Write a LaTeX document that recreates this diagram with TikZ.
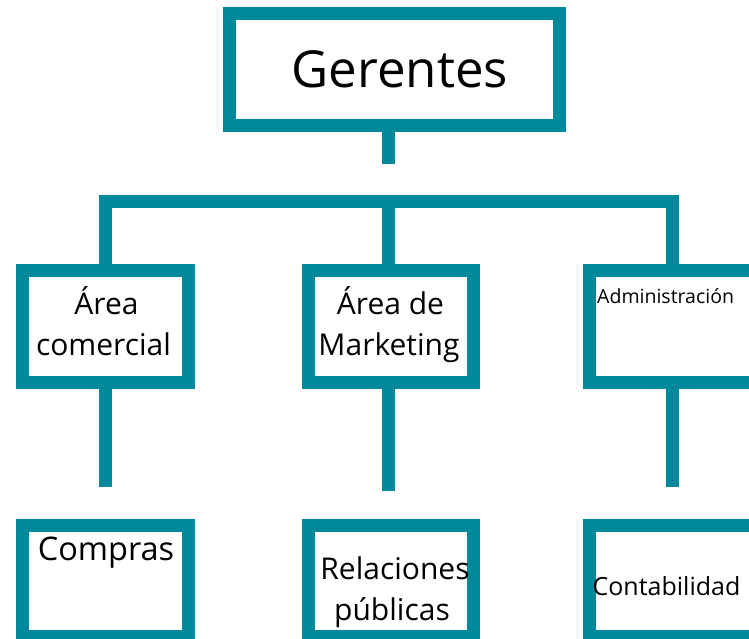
\documentclass[tikz,border=0pt]{standalone}
\usepackage{fontspec}
\setmainfont{Open Sans}
\definecolor{teal1}{HTML}{00899A}
\tikzset{
  orgbox/.style={draw=teal1, line width=13pt, fill=white, rectangle, inner sep=0pt, outer sep=0pt, line join=miter},
  conn/.style={draw=teal1, line width=13pt, line join=miter, line cap=butt},
  lbl/.style={anchor=base, inner sep=0pt, text=black},
}
\begin{document}
\begin{tikzpicture}[x=1pt,y=-1pt]
\useasboundingbox (0,0) rectangle (749,639);
\fill[white] (0,0) rectangle (749,639);
\begin{scope}
\clip (0,0) rectangle (749,639);
% connectors
\coordinate (barL) at (105,201.5);
\coordinate (barR) at (672,201.5);
\coordinate (barM) at (388.5,201.5);
\coordinate (topEnd) at (388.5,164);
\coordinate (d1) at (105,487);
\coordinate (d2) at (388.5,491);
\coordinate (d3) at (672,487);
% boxes
\node[orgbox, minimum width=330pt, minimum height=112pt] (ger) at (394.5,69.5) {};
\node[orgbox, minimum width=165.5pt, minimum height=112pt] (ac) at (105.25,326) {};
\node[orgbox, minimum width=164.5pt, minimum height=112pt] (am) at (390.75,326) {};
\node[orgbox, minimum width=165.5pt, minimum height=112pt] (adm) at (672.25,326) {};
\node[orgbox, minimum width=165.5pt, minimum height=111pt] (com) at (105.25,581) {};
\node[orgbox, minimum width=164.5pt, minimum height=111pt] (rp) at (390.75,581) {};
\node[orgbox, minimum width=165.5pt, minimum height=111pt] (cont) at (672.25,581) {};
% lines
\draw[conn] (ger.south -| topEnd) ++(0,-6.5) -- (topEnd);
\draw[conn] (ac.north -| barL) ++(0,6.5) -- (barL) -- (barR) -- ([yshift=6.5pt]adm.north -| barR);
\draw[conn] (barM) -- ([yshift=6.5pt]am.north -| barM);
\draw[conn] ([yshift=-6.5pt]ac.south -| d1) -- (d1);
\draw[conn] ([yshift=-6.5pt]am.south -| d2) -- (d2);
\draw[conn] ([yshift=-6.5pt]adm.south -| d3) -- (d3);
% redraw boxes on top
\node[orgbox, minimum width=330pt, minimum height=112pt] at (ger) {};
\node[orgbox, minimum width=165.5pt, minimum height=112pt] at (ac) {};
\node[orgbox, minimum width=164.5pt, minimum height=112pt] at (am) {};
\node[orgbox, minimum width=165.5pt, minimum height=112pt] at (adm) {};
\end{scope}
% labels
\node[lbl, font=\fontsize{51}{60}\selectfont] (tger) at (400,88) {Gerentes};
\node[lbl, font=\fontsize{30}{41}\selectfont] (tac1) at (106.5,314) {Área};
\node[lbl, font=\fontsize{30}{41}\selectfont] (tac2) at (103.5,355) {comercial};
\node[lbl, font=\fontsize{30}{41}\selectfont] (tam1) at (390.5,314) {Área de};
\node[lbl, font=\fontsize{30}{41}\selectfont] (tam2) at (389,355) {Marketing};
\node[lbl, anchor=base west, font=\fontsize{19.5}{24}\selectfont] (tadm) at (597,303) {Administración};
\node[lbl, font=\fontsize{32.5}{40}\selectfont] (tcom) at (106,560) {Compras};
\node[lbl, font=\fontsize{30}{41}\selectfont] (trp1) at (395,579) {Relaciones};
\node[lbl, font=\fontsize{30}{41}\selectfont] (trp2) at (392,620) {públicas};
\node[lbl, font=\fontsize{25}{30}\selectfont] (tcont) at (666.5,595) {Contabilidad};
\end{tikzpicture}
\end{document}
